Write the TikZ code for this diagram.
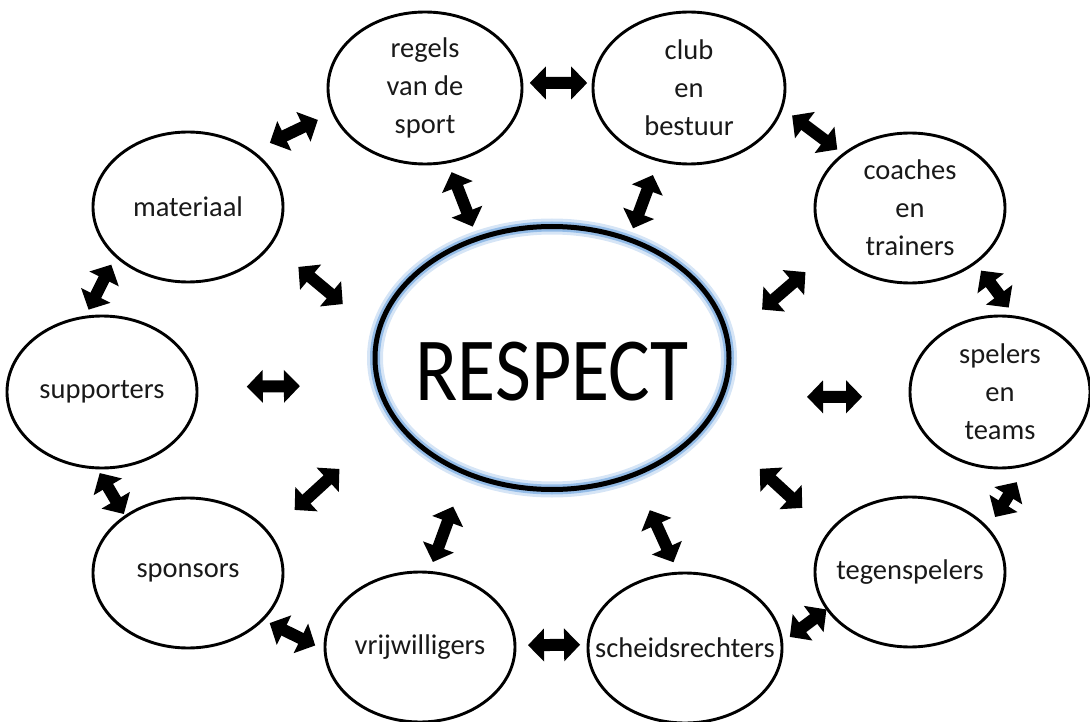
\documentclass[tikz,border=0pt]{standalone}
\usepackage{fontspec}
\usepackage{graphicx}
\setmainfont{Carlito}
\usetikzlibrary{shapes.geometric, arrows.meta}
\definecolor{glowblue}{RGB}{120,170,225}

\begin{document}
\begin{tikzpicture}[x=1pt, y=-1pt,
	bubble/.style={ellipse, draw, line width=2.9pt, minimum width=190pt, minimum height=150pt, inner sep=0pt, outer sep=0pt},
	btext/.style={align=center, font=\fontsize{28.5}{38}\selectfont, text=black!90},
	twoway/.style={line width=12pt, >={Triangle[width=32pt,length=16pt]}, <->}]
	\useasboundingbox (0,0) rectangle (1090,722);

	% centre
	\node[bubble, minimum width=354pt, minimum height=263pt, line width=5pt,
		preaction={draw=glowblue, line width=16pt, opacity=.3},
		preaction={draw=glowblue, line width=10pt, opacity=.7},
		label={[font=\fontsize{78}{80}\selectfont, yshift=-14pt]center:\scalebox{1}[1.155]{RESPECT}}] (respect) at (552,358) {};

	% ring
	\node[bubble, minimum width=194pt, minimum height=152pt, label={[btext]center:regels\\van de\\sport}] (regels) at (425,88) {};
	\node[bubble, minimum width=192pt, minimum height=152pt, label={[btext]center:club\\en\\bestuur}] (club) at (689,88) {};
	\node[bubble, label={[btext]center:coaches\\en\\trainers}] (coaches) at (910,208) {};
	\node[bubble, minimum width=180pt, minimum height=152pt, label={[btext]center:spelers\\en\\teams}] (spelers) at (1000,392) {};
	\node[bubble, label={[btext]center:tegenspelers}] (tegenspelers) at (910,572) {};
	\node[bubble, minimum width=194pt, label={[btext]center:scheidsrechters}] (scheidsrechters) at (685,648) {};
	\node[bubble, label={[btext]center:vrijwilligers}] (vrijwilligers) at (420,647) {};
	\node[bubble, label={[btext]center:sponsors}] (sponsors) at (188,573) {};
	\node[bubble, minimum height=152pt, label={[btext]center:supporters}] (supporters) at (102,392) {};
	\node[bubble, label={[btext]center:materiaal}] (materiaal) at (188,207) {};

	% arrows round the ring
	\draw[twoway, shorten <=8pt, shorten >=6pt] (regels.3) -- (club.177);
	\draw[twoway, shorten <=13pt, shorten >=8pt] (club.348.5) -- (coaches.141.7);
	\draw[twoway, shorten <=10pt, shorten >=12pt] (coaches.320.9) -- (spelers.78.9);
	\draw[twoway, shorten <=21pt, shorten >=14pt] (spelers.291.3) -- (tegenspelers.29.1);
	\draw[twoway, shorten <=10pt, shorten >=1pt] (scheidsrechters.3) -- (tegenspelers.204.5);
	\draw[twoway, shorten <=13pt, shorten >=8pt] (vrijwilligers.1.5) -- (scheidsrechters.178.2);
	\draw[twoway, shorten <=8pt, shorten >=11pt] (sponsors.328.2) -- (vrijwilligers.182);
	\draw[twoway, shorten <=6pt, shorten >=3pt] (supporters.266.3) -- (sponsors.138.9);
	\draw[twoway, shorten <=10pt, shorten >=8.5pt] (materiaal.214.7) -- (supporters.103.6);
	\draw[twoway, shorten <=17pt, shorten >=20pt] (regels.195) -- (materiaal.41);

	% arrows to the centre
	\draw[twoway, shorten <=11pt, shorten >=13pt] (regels.287) -- (respect.122.5);
	\draw[twoway, shorten <=16pt, shorten >=12pt] (club.247) -- (respect.57);
	\draw[twoway, shorten <=34pt, shorten >=46pt] (coaches.208.1) -- (respect.6.7);
	\draw[twoway, shorten <=48pt, shorten >=86pt] (spelers.183) -- (respect.347);
	\draw[twoway, shorten <=36.5pt, shorten >=71pt] (tegenspelers.154.6) -- (respect.338.7);
	\draw[twoway, shorten <=12pt, shorten >=39pt] (scheidsrechters.95.3) -- (respect.305.2);
	\draw[twoway, shorten <=11pt, shorten >=36pt] (vrijwilligers.83) -- (respect.233);
	\draw[twoway, shorten <=35pt, shorten >=75pt] (sponsors.26.1) -- (respect.201.7);
	\draw[twoway, shorten <=50pt, shorten >=79pt] (supporters.3) -- (respect.189.5);
	\draw[twoway, shorten <=36pt, shorten >=46pt] (materiaal.336) -- (respect.172.3);
\end{tikzpicture}
\end{document}
